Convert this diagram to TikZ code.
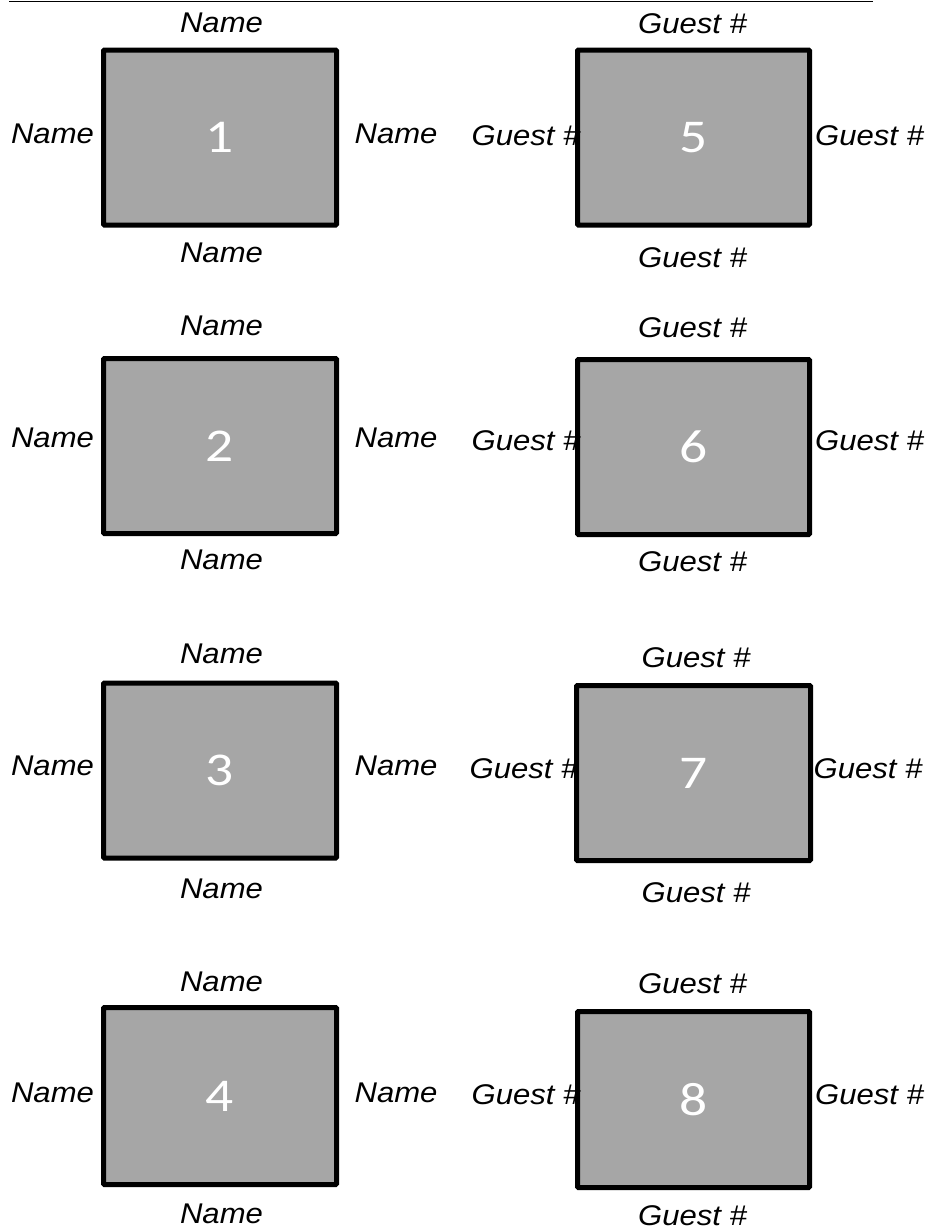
\documentclass[tikz,border=0pt]{standalone}
\usepackage{fontspec}
\newfontfamily\lblfont{Liberation Sans}[FakeStretch=1.09]
\newfontfamily\numfont{Carlito}[FakeStretch=1.18]
\definecolor{tablegray}{RGB}{166,166,166}
\begin{document}
\begin{tikzpicture}[x=1pt,y=-1pt,
  tablebox/.style={draw=black,fill=tablegray,line width=5pt,rounded corners=1pt,
    minimum width=233pt,minimum height=175pt,inner sep=0pt,
    text=white,font=\numfont\fontsize{47}{50}\selectfont},
  seat/.style={anchor=base,inner sep=0pt,font=\lblfont\itshape\fontsize{28.5}{31}\selectfont}]
\useasboundingbox (0,0) rectangle (930,1229);
\coordinate (ruleL) at (9,1);
\coordinate (ruleR) at (873,1);
\draw[line width=1pt] (ruleL) -- (ruleR);
% left column
\node[tablebox] (t1) at (220,137.5) {1};
\node[tablebox] (t2) at (220,446) {2};
\node[tablebox] (t3) at (220,770.5) {3};
\node[tablebox,minimum height=177pt] (t4) at (220,1096) {4};
% right column
\node[tablebox,minimum width=232pt] (t5) at (693.5,137.5) {5};
\node[tablebox,minimum width=232pt] (t6) at (693.5,447) {6};
\node[tablebox,minimum width=234pt] (t7) at (693.5,773) {7};
\node[tablebox,minimum width=232pt,minimum height=176pt] (t8) at (693.5,1099.5) {8};
% labels table 1-4
\node[seat] (t1n) at (221.5,32) {Name};
\node[seat] (t1w) at (52.5,143) {Name};
\node[seat] (t1e) at (396,143) {Name};
\node[seat] (t1s) at (221.5,262) {Name};
\node[seat] (t2n) at (221.5,335) {Name};
\node[seat] (t2w) at (52.5,447) {Name};
\node[seat] (t2e) at (396,447) {Name};
\node[seat] (t2s) at (221.5,569) {Name};
\node[seat] (t3n) at (221.5,663) {Name};
\node[seat] (t3w) at (52.5,775) {Name};
\node[seat] (t3e) at (396,775) {Name};
\node[seat] (t3s) at (221.5,898) {Name};
\node[seat] (t4n) at (221.5,991) {Name};
\node[seat] (t4w) at (52.5,1102) {Name};
\node[seat] (t4e) at (396,1102) {Name};
\node[seat] (t4s) at (221.5,1223) {Name};
% labels table 5-8
\node[seat] (t5n) at (692.5,33) {Guest \#};
\node[seat] (t5w) at (526,145) {Guest \#};
\node[seat] (t5e) at (869.5,145) {Guest \#};
\node[seat] (t5s) at (692.5,267) {Guest \#};
\node[seat] (t6n) at (692.5,337) {Guest \#};
\node[seat] (t6w) at (526,450) {Guest \#};
\node[seat] (t6e) at (869.5,450) {Guest \#};
\node[seat] (t6s) at (692.5,571) {Guest \#};
\node[seat] (t7n) at (696,667) {Guest \#};
\node[seat] (t7w) at (524,778) {Guest \#};
\node[seat] (t7e) at (868,778) {Guest \#};
\node[seat] (t7s) at (696,902) {Guest \#};
\node[seat] (t8n) at (692.5,993) {Guest \#};
\node[seat] (t8w) at (526,1104) {Guest \#};
\node[seat] (t8e) at (869.5,1104) {Guest \#};
\node[seat] (t8s) at (692.5,1225) {Guest \#};
\end{tikzpicture}
\end{document}
